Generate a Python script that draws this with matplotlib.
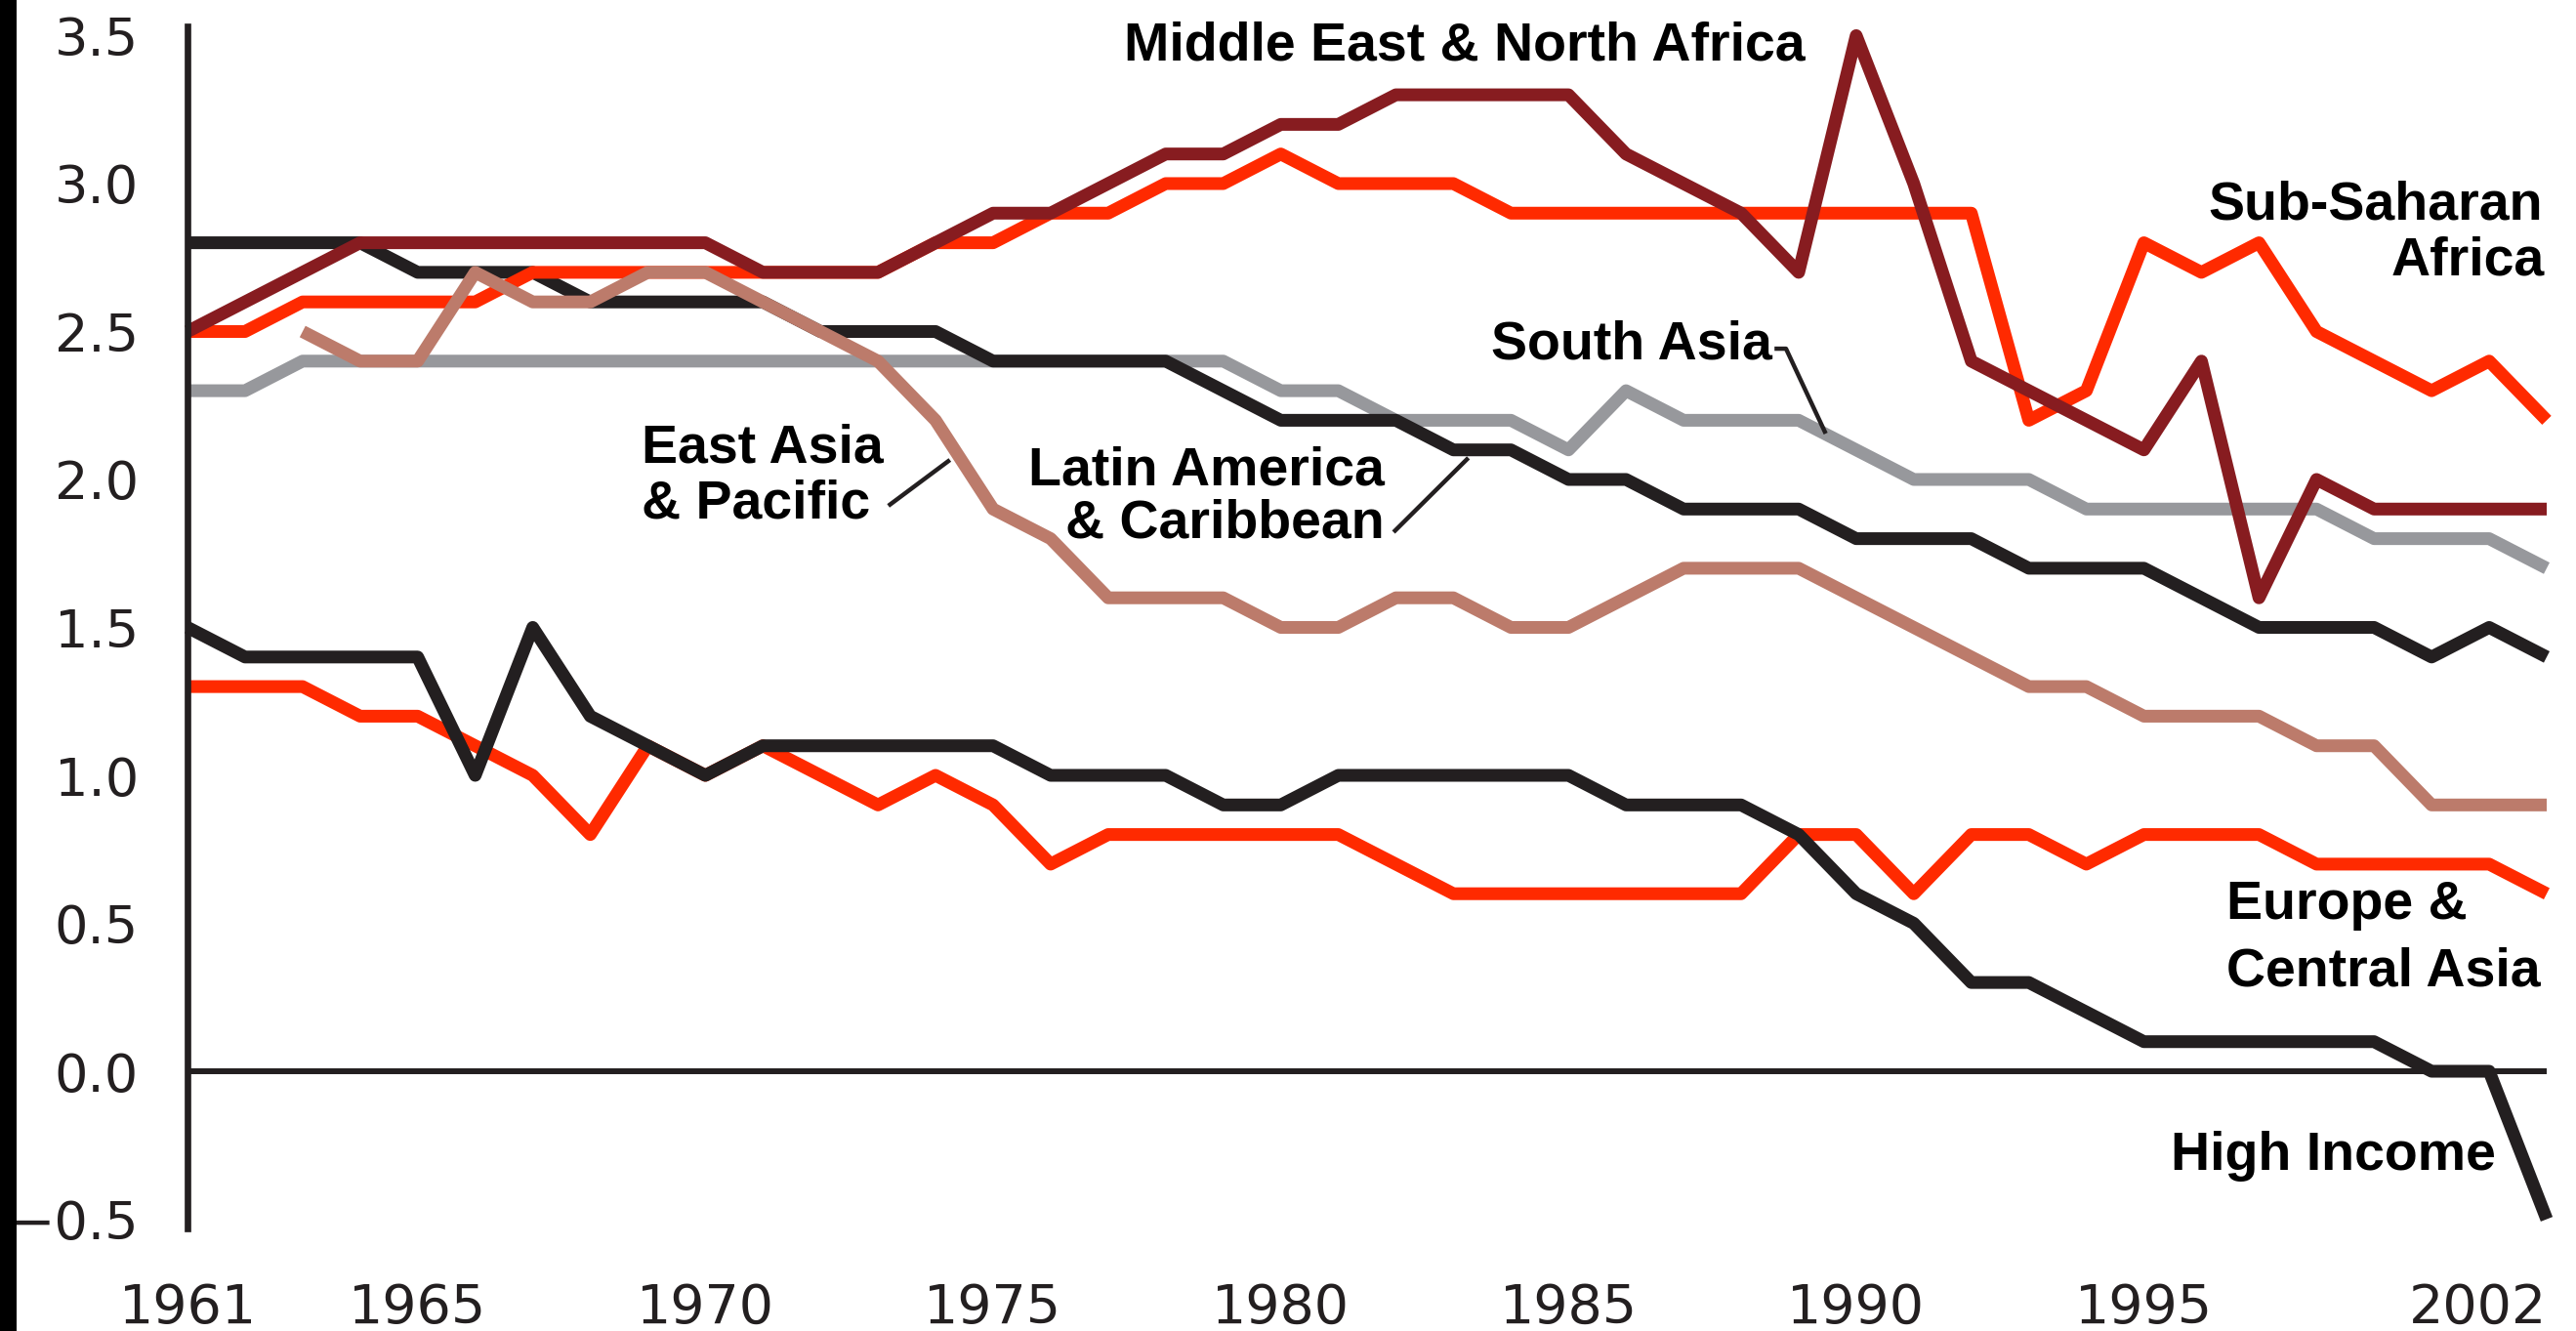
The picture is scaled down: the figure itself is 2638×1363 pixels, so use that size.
import matplotlib
matplotlib.use("Agg")
import matplotlib.pyplot as plt
import numpy as np
from matplotlib.patches import Rectangle

# ---------------- data ----------------
years = list(range(1961, 2003))

mena = [2.5, 2.6, 2.7, 2.8, 2.8, 2.8, 2.8, 2.8, 2.8, 2.8,
        2.7, 2.7, 2.7, 2.8, 2.9, 2.9, 3.0, 3.1, 3.1, 3.2,
        3.2, 3.3, 3.3, 3.3, 3.3, 3.1, 3.0, 2.9, 2.7, 3.5,
        3.0, 2.4, 2.3, 2.2, 2.1, 2.4, 1.6, 2.0, 1.9, 1.9,
        1.9, 1.9]
sub_saharan = [2.5, 2.5, 2.6, 2.6, 2.6, 2.6, 2.7, 2.7, 2.7, 2.7,
               2.7, 2.7, 2.7, 2.8, 2.8, 2.9, 2.9, 3.0, 3.0, 3.1,
               3.0, 3.0, 3.0, 2.9, 2.9, 2.9, 2.9, 2.9, 2.9, 2.9,
               2.9, 2.9, 2.2, 2.3, 2.8, 2.7, 2.8, 2.5, 2.4, 2.3,
               2.4, 2.2]
south_asia = [2.3, 2.3, 2.4, 2.4, 2.4, 2.4, 2.4, 2.4, 2.4, 2.4,
              2.4, 2.4, 2.4, 2.4, 2.4, 2.4, 2.4, 2.4, 2.4, 2.3,
              2.3, 2.2, 2.2, 2.2, 2.1, 2.3, 2.2, 2.2, 2.2, 2.1,
              2.0, 2.0, 2.0, 1.9, 1.9, 1.9, 1.9, 1.9, 1.8, 1.8,
              1.8, 1.7]
latin_america = [2.8, 2.8, 2.8, 2.8, 2.7, 2.7, 2.7, 2.6, 2.6, 2.6,
                 2.6, 2.5, 2.5, 2.5, 2.4, 2.4, 2.4, 2.4, 2.3, 2.2,
                 2.2, 2.2, 2.1, 2.1, 2.0, 2.0, 1.9, 1.9, 1.9, 1.8,
                 1.8, 1.8, 1.7, 1.7, 1.7, 1.6, 1.5, 1.5, 1.5, 1.4,
                 1.5, 1.4]
east_asia = [np.nan, np.nan, 2.5, 2.4, 2.4, 2.7, 2.6, 2.6, 2.7, 2.7,
             2.6, 2.5, 2.4, 2.2, 1.9, 1.8, 1.6, 1.6, 1.6, 1.5,
             1.5, 1.6, 1.6, 1.5, 1.5, 1.6, 1.7, 1.7, 1.7, 1.6,
             1.5, 1.4, 1.3, 1.3, 1.2, 1.2, 1.2, 1.1, 1.1, 0.9,
             0.9, 0.9]
europe_central_asia = [1.3, 1.3, 1.3, 1.2, 1.2, 1.1, 1.0, 0.8, 1.1, 1.0,
                       1.1, 1.0, 0.9, 1.0, 0.9, 0.7, 0.8, 0.8, 0.8, 0.8,
                       0.8, 0.7, 0.6, 0.6, 0.6, 0.6, 0.6, 0.6, 0.8, 0.8,
                       0.6, 0.8, 0.8, 0.7, 0.8, 0.8, 0.8, 0.7, 0.7, 0.7,
                       0.7, 0.6]
high_income = [1.5, 1.4, 1.4, 1.4, 1.4, 1.0, 1.5, 1.2, 1.1, 1.0,
               1.1, 1.1, 1.1, 1.1, 1.1, 1.0, 1.0, 1.0, 0.9, 0.9,
               1.0, 1.0, 1.0, 1.0, 1.0, 0.9, 0.9, 0.9, 0.8, 0.6,
               0.5, 0.3, 0.3, 0.2, 0.1, 0.1, 0.1, 0.1, 0.1, 0.0,
               0.0, -0.5]

xtick_years = [1961, 1965, 1970, 1975, 1980, 1985, 1990, 1995, 2002]
ytick_values = [-0.5, 0.0, 0.5, 1.0, 1.5, 2.0, 2.5, 3.0, 3.5]
ytick_labels = ["\u22120.5", "0.0", "0.5", "1.0", "1.5", "2.0", "2.5", "3.0", "3.5"]

# ---------------- style ----------------
DARK = "#231f20"
RED = "#ff2a00"
MAROON = "#871c20"
GRAY = "#97989c"
SALMON = "#bc7b6b"

W, H = 2638, 1363
fig = plt.figure(figsize=(W / 100, H / 100), dpi=100)
fig.patch.set_facecolor("white")
ax = fig.add_axes([192 / W, 0.07733, (2608 - 192) / W, 0.90257])

LW = 9.4
series = [
    (south_asia, GRAY),
    (latin_america, DARK),
    (sub_saharan, RED),
    (east_asia, SALMON),
    (mena, MAROON),
    (europe_central_asia, RED),
    (high_income, DARK),
]
for i, (vals, col) in enumerate(series):
    ax.plot(years, vals, color=col, lw=LW, solid_joinstyle="round",
            solid_capstyle="butt", zorder=3 + i, clip_on=False)

ax.axhline(0, color=DARK, lw=4.3, zorder=2)

ax.set_xlim(1961, 2002)
ax.set_ylim(-0.53, 3.53)
for s in ["top", "right", "bottom"]:
    ax.spines[s].set_visible(False)
ax.spines["left"].set_color(DARK)
ax.spines["left"].set_linewidth(4.8)
ax.spines["left"].set_zorder(20)

ax.set_yticks(ytick_values)
ax.set_yticklabels(ytick_labels)
ax.set_xticks(xtick_years)
ax.set_xticklabels([str(y) for y in xtick_years])
ax.tick_params(axis="y", length=0, pad=36, labelsize=39, labelcolor=DARK)
ax.tick_params(axis="x", length=0, pad=40, labelsize=40, labelcolor=DARK)
for lab in ax.get_yticklabels() + ax.get_xticklabels():
    lab.set_fontfamily(["DejaVu Sans"])
ax.get_xticklabels()[-1].set_horizontalalignment("right")

# ---------------- labels ----------------
tfont = dict(family=["Liberation Sans", "DejaVu Sans"], fontweight="bold",
             fontsize=40, color="black", va="baseline", zorder=30)
ax.text(1977.27, 3.416, "Middle East & North Africa", ha="left", **tfont)
ax.text(2001.93, 2.878, "Sub-Saharan", ha="right", **tfont)
ax.text(2001.96, 2.690, "Africa", ha="right", **tfont)
ax.text(1983.65, 2.406, "South Asia", ha="left", **tfont)
ax.text(1968.89, 2.059, "East Asia", ha="left", **tfont)
ax.text(1968.89, 1.868, "& Pacific", ha="left", **tfont)
ax.text(1981.80, 1.983, "Latin America", ha="right", **tfont)
ax.text(1981.80, 1.802, "& Caribbean", ha="right", **tfont)
ax.text(1996.43, 0.515, "Europe &", ha="left", **tfont)
ax.text(1996.43, 0.290, "Central Asia", ha="left", **tfont)
ax.text(1995.46, -0.333, "High Income", ha="left", **tfont)

# leader lines
lk = dict(color=DARK, lw=3.2, solid_capstyle="butt", zorder=30, clip_on=False)
ax.plot([1988.58, 1988.78, 1989.47], [2.442, 2.442, 2.155], **lk)
ax.plot([1973.18, 1974.25], [1.911, 2.066], **lk)
ax.plot([1981.96, 1983.26], [1.822, 2.073], **lk)

# black strip at the left edge
fig.patches.append(Rectangle((0, 0), 17 / W, 1, transform=fig.transFigure,
                             facecolor="black", edgecolor="none", zorder=0))

fig.savefig("out.png", dpi=100, facecolor="white")
